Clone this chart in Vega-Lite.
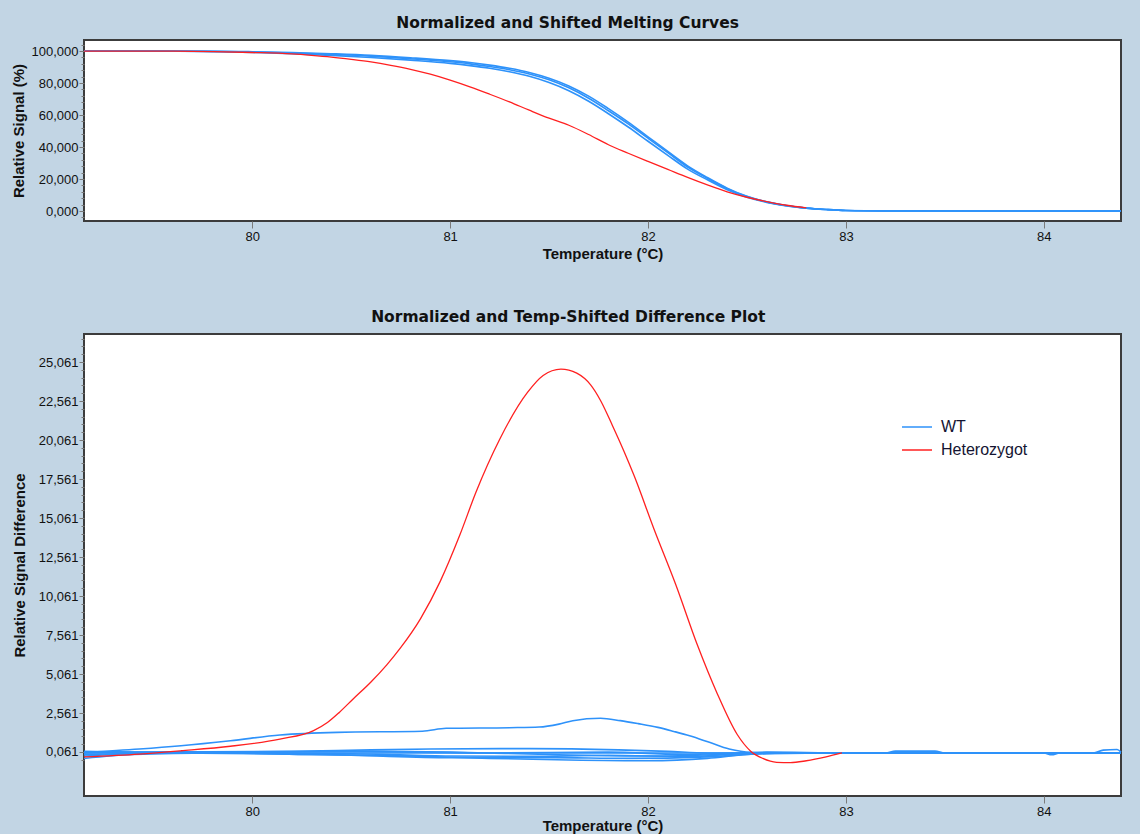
{
  "$schema": "https://vega.github.io/schema/vega-lite/v6.json",
  "background": "#C2D5E4",
  "padding": {"left": 10, "top": 14, "right": 18, "bottom": 0},
  "config": {
    "view": {"fill": "white", "stroke": "#3c3c3c", "strokeWidth": 2},
    "axis": {"labelFont": "Liberation Sans", "labelFontSize": 13, "labelColor": "#111111", "titleFont": "Liberation Sans", "titleFontSize": 15, "titleFontWeight": "bold", "titleColor": "#111111", "domain": false, "grid": false, "tickColor": "#7a7a7a", "tickSize": 5, "labelPadding": 1},
    "title": {"font": "DejaVu Sans", "fontSize": 15.5, "fontWeight": "bold", "color": "#111111", "anchor": "middle", "frame": "bounds", "offset": 9},
    "line": {"strokeWidth": 1.5, "interpolate": "monotone"}
  },
  "datasets": {
    "melt": [
      {"s":"WT1","g":"WT","t":79.15,"v":100},{"s":"WT1","g":"WT","t":79.5,"v":100},{"s":"WT1","g":"WT","t":79.8,"v":99.8},{"s":"WT1","g":"WT","t":80.0,"v":99.4},{"s":"WT1","g":"WT","t":80.2,"v":98.8},{"s":"WT1","g":"WT","t":80.4,"v":97.9},{"s":"WT1","g":"WT","t":80.6,"v":96.8},{"s":"WT1","g":"WT","t":80.8,"v":95.2},{"s":"WT1","g":"WT","t":81.0,"v":93.3},{"s":"WT1","g":"WT","t":81.1,"v":92},{"s":"WT1","g":"WT","t":81.2,"v":90.3},{"s":"WT1","g":"WT","t":81.3,"v":88.3},{"s":"WT1","g":"WT","t":81.4,"v":85.7},{"s":"WT1","g":"WT","t":81.5,"v":82},{"s":"WT1","g":"WT","t":81.6,"v":77},{"s":"WT1","g":"WT","t":81.7,"v":70.5},{"s":"WT1","g":"WT","t":81.8,"v":62.7},{"s":"WT1","g":"WT","t":81.9,"v":54.5},{"s":"WT1","g":"WT","t":82.0,"v":45.5},{"s":"WT1","g":"WT","t":82.1,"v":36.5},{"s":"WT1","g":"WT","t":82.2,"v":27.5},{"s":"WT1","g":"WT","t":82.3,"v":20.5},{"s":"WT1","g":"WT","t":82.4,"v":14},{"s":"WT1","g":"WT","t":82.5,"v":9},{"s":"WT1","g":"WT","t":82.6,"v":5.6},{"s":"WT1","g":"WT","t":82.7,"v":3.3},{"s":"WT1","g":"WT","t":82.8,"v":1.8},{"s":"WT1","g":"WT","t":82.9,"v":0.9},{"s":"WT1","g":"WT","t":83.0,"v":0.3},{"s":"WT1","g":"WT","t":83.2,"v":0.05},{"s":"WT1","g":"WT","t":83.6,"v":0},{"s":"WT1","g":"WT","t":84.0,"v":0},{"s":"WT1","g":"WT","t":84.39,"v":0},
      {"s":"WT2","g":"WT","t":79.15,"v":100},{"s":"WT2","g":"WT","t":79.5,"v":100},{"s":"WT2","g":"WT","t":79.8,"v":99.6},{"s":"WT2","g":"WT","t":80.0,"v":99.1},{"s":"WT2","g":"WT","t":80.2,"v":98.3},{"s":"WT2","g":"WT","t":80.4,"v":97.3},{"s":"WT2","g":"WT","t":80.6,"v":96.0},{"s":"WT2","g":"WT","t":80.8,"v":94.3},{"s":"WT2","g":"WT","t":81.0,"v":92.3},{"s":"WT2","g":"WT","t":81.1,"v":90.9},{"s":"WT2","g":"WT","t":81.2,"v":89.2},{"s":"WT2","g":"WT","t":81.3,"v":87.0},{"s":"WT2","g":"WT","t":81.4,"v":84.2},{"s":"WT2","g":"WT","t":81.5,"v":80.3},{"s":"WT2","g":"WT","t":81.6,"v":75.2},{"s":"WT2","g":"WT","t":81.7,"v":68.6},{"s":"WT2","g":"WT","t":81.8,"v":60.8},{"s":"WT2","g":"WT","t":81.9,"v":52.5},{"s":"WT2","g":"WT","t":82.0,"v":43.6},{"s":"WT2","g":"WT","t":82.1,"v":34.8},{"s":"WT2","g":"WT","t":82.2,"v":26.2},{"s":"WT2","g":"WT","t":82.3,"v":19.5},{"s":"WT2","g":"WT","t":82.4,"v":13.3},{"s":"WT2","g":"WT","t":82.5,"v":8.6},{"s":"WT2","g":"WT","t":82.6,"v":5.4},{"s":"WT2","g":"WT","t":82.7,"v":3.2},{"s":"WT2","g":"WT","t":82.8,"v":1.8},{"s":"WT2","g":"WT","t":82.9,"v":0.9},{"s":"WT2","g":"WT","t":83.0,"v":0.3},{"s":"WT2","g":"WT","t":83.2,"v":0.05},{"s":"WT2","g":"WT","t":83.6,"v":0},{"s":"WT2","g":"WT","t":84.39,"v":0},
      {"s":"WT3","g":"WT","t":79.15,"v":100},{"s":"WT3","g":"WT","t":79.8,"v":99.9},{"s":"WT3","g":"WT","t":80.0,"v":99.6},{"s":"WT3","g":"WT","t":80.2,"v":99.1},{"s":"WT3","g":"WT","t":80.4,"v":98.3},{"s":"WT3","g":"WT","t":80.6,"v":97.3},{"s":"WT3","g":"WT","t":80.8,"v":95.8},{"s":"WT3","g":"WT","t":81.0,"v":94.0},{"s":"WT3","g":"WT","t":81.1,"v":92.8},{"s":"WT3","g":"WT","t":81.2,"v":91.2},{"s":"WT3","g":"WT","t":81.3,"v":89.2},{"s":"WT3","g":"WT","t":81.4,"v":86.6},{"s":"WT3","g":"WT","t":81.5,"v":83.0},{"s":"WT3","g":"WT","t":81.6,"v":78.2},{"s":"WT3","g":"WT","t":81.7,"v":71.8},{"s":"WT3","g":"WT","t":81.8,"v":64.0},{"s":"WT3","g":"WT","t":81.9,"v":55.6},{"s":"WT3","g":"WT","t":82.0,"v":46.4},{"s":"WT3","g":"WT","t":82.1,"v":37.2},{"s":"WT3","g":"WT","t":82.2,"v":28.2},{"s":"WT3","g":"WT","t":82.3,"v":20.9},{"s":"WT3","g":"WT","t":82.4,"v":14.3},{"s":"WT3","g":"WT","t":82.5,"v":9.2},{"s":"WT3","g":"WT","t":82.6,"v":5.7},{"s":"WT3","g":"WT","t":82.7,"v":3.4},{"s":"WT3","g":"WT","t":82.8,"v":1.8},{"s":"WT3","g":"WT","t":82.9,"v":0.9},{"s":"WT3","g":"WT","t":83.0,"v":0.3},{"s":"WT3","g":"WT","t":83.2,"v":0.05},{"s":"WT3","g":"WT","t":84.39,"v":0},
      {"s":"HET","g":"Heterozygot","t":79.15,"v":100},{"s":"HET","g":"Heterozygot","t":79.6,"v":99.9},{"s":"HET","g":"Heterozygot","t":80.0,"v":99.1},{"s":"HET","g":"Heterozygot","t":80.2,"v":98.2},{"s":"HET","g":"Heterozygot","t":80.3,"v":97.3},{"s":"HET","g":"Heterozygot","t":80.4,"v":96.2},{"s":"HET","g":"Heterozygot","t":80.5,"v":94.8},{"s":"HET","g":"Heterozygot","t":80.6,"v":93.2},{"s":"HET","g":"Heterozygot","t":80.7,"v":91.1},{"s":"HET","g":"Heterozygot","t":80.8,"v":88.6},{"s":"HET","g":"Heterozygot","t":80.9,"v":85.5},{"s":"HET","g":"Heterozygot","t":81.0,"v":81.8},{"s":"HET","g":"Heterozygot","t":81.1,"v":77.6},{"s":"HET","g":"Heterozygot","t":81.2,"v":73},{"s":"HET","g":"Heterozygot","t":81.3,"v":68.2},{"s":"HET","g":"Heterozygot","t":81.4,"v":63},{"s":"HET","g":"Heterozygot","t":81.5,"v":58},{"s":"HET","g":"Heterozygot","t":81.6,"v":53.6},{"s":"HET","g":"Heterozygot","t":81.7,"v":47.8},{"s":"HET","g":"Heterozygot","t":81.8,"v":41.4},{"s":"HET","g":"Heterozygot","t":81.9,"v":36.1},{"s":"HET","g":"Heterozygot","t":82.0,"v":31},{"s":"HET","g":"Heterozygot","t":82.1,"v":26},{"s":"HET","g":"Heterozygot","t":82.2,"v":21},{"s":"HET","g":"Heterozygot","t":82.3,"v":16.3},{"s":"HET","g":"Heterozygot","t":82.4,"v":12},{"s":"HET","g":"Heterozygot","t":82.5,"v":8.6},{"s":"HET","g":"Heterozygot","t":82.6,"v":5.9},{"s":"HET","g":"Heterozygot","t":82.7,"v":3.6},{"s":"HET","g":"Heterozygot","t":82.8,"v":2.0}
    ],
    "diff": [
      {"s":"B","g":"WT","t":79.15,"v":0.03},{"s":"B","g":"WT","t":79.43,"v":0.25},{"s":"B","g":"WT","t":79.64,"v":0.46},{"s":"B","g":"WT","t":79.89,"v":0.78},{"s":"B","g":"WT","t":80.14,"v":1.15},{"s":"B","g":"WT","t":80.43,"v":1.32},{"s":"B","g":"WT","t":80.86,"v":1.39},{"s":"B","g":"WT","t":80.98,"v":1.58},{"s":"B","g":"WT","t":81.3,"v":1.62},{"s":"B","g":"WT","t":81.45,"v":1.66},{"s":"B","g":"WT","t":81.55,"v":1.85},{"s":"B","g":"WT","t":81.62,"v":2.07},{"s":"B","g":"WT","t":81.76,"v":2.22},{"s":"B","g":"WT","t":81.86,"v":2.07},{"s":"B","g":"WT","t":81.95,"v":1.88},{"s":"B","g":"WT","t":82.05,"v":1.64},{"s":"B","g":"WT","t":82.13,"v":1.38},{"s":"B","g":"WT","t":82.21,"v":1.1},{"s":"B","g":"WT","t":82.31,"v":0.68},{"s":"B","g":"WT","t":82.41,"v":0.25},{"s":"B","g":"WT","t":82.52,"v":0.04},{"s":"B","g":"WT","t":82.8,"v":0.0},{"s":"B","g":"WT","t":84.39,"v":0.0},
      {"s":"R","g":"WT","t":79.15,"v":0.0},{"s":"R","g":"WT","t":83.2,"v":0.0},{"s":"R","g":"WT","t":83.25,"v":0.12},{"s":"R","g":"WT","t":83.45,"v":0.12},{"s":"R","g":"WT","t":83.5,"v":0.0},{"s":"R","g":"WT","t":84.0,"v":0.0},{"s":"R","g":"WT","t":84.04,"v":-0.12},{"s":"R","g":"WT","t":84.08,"v":0.0},{"s":"R","g":"WT","t":84.25,"v":0.0},{"s":"R","g":"WT","t":84.3,"v":0.18},{"s":"R","g":"WT","t":84.37,"v":0.22},{"s":"R","g":"WT","t":84.39,"v":0.05},
      {"s":"A","g":"WT","t":79.15,"v":0.1},{"s":"A","g":"WT","t":79.5,"v":0.05},{"s":"A","g":"WT","t":80.2,"v":0.1},{"s":"A","g":"WT","t":80.6,"v":0.2},{"s":"A","g":"WT","t":80.9,"v":0.25},{"s":"A","g":"WT","t":81.4,"v":0.28},{"s":"A","g":"WT","t":81.85,"v":0.2},{"s":"A","g":"WT","t":82.1,"v":0.1},{"s":"A","g":"WT","t":82.3,"v":0.0},{"s":"A","g":"WT","t":84.39,"v":0.0},
      {"s":"C","g":"WT","t":79.15,"v":-0.35},{"s":"C","g":"WT","t":79.4,"v":-0.1},{"s":"C","g":"WT","t":79.8,"v":0.0},{"s":"C","g":"WT","t":80.3,"v":-0.1},{"s":"C","g":"WT","t":80.8,"v":-0.2},{"s":"C","g":"WT","t":81.2,"v":-0.35},{"s":"C","g":"WT","t":81.6,"v":-0.45},{"s":"C","g":"WT","t":82.0,"v":-0.5},{"s":"C","g":"WT","t":82.3,"v":-0.35},{"s":"C","g":"WT","t":82.5,"v":-0.1},{"s":"C","g":"WT","t":82.7,"v":0.0},{"s":"C","g":"WT","t":84.39,"v":0.0},
      {"s":"D","g":"WT","t":79.15,"v":-0.2},{"s":"D","g":"WT","t":79.5,"v":0.0},{"s":"D","g":"WT","t":80.5,"v":-0.15},{"s":"D","g":"WT","t":81.0,"v":-0.3},{"s":"D","g":"WT","t":81.5,"v":-0.3},{"s":"D","g":"WT","t":81.9,"v":-0.35},{"s":"D","g":"WT","t":82.3,"v":-0.25},{"s":"D","g":"WT","t":82.6,"v":-0.05},{"s":"D","g":"WT","t":83.0,"v":0.0},{"s":"D","g":"WT","t":84.39,"v":0.0},
      {"s":"E","g":"WT","t":79.15,"v":0.05},{"s":"E","g":"WT","t":80.0,"v":0.05},{"s":"E","g":"WT","t":80.6,"v":0.1},{"s":"E","g":"WT","t":81.0,"v":0.05},{"s":"E","g":"WT","t":81.5,"v":-0.1},{"s":"E","g":"WT","t":82.0,"v":-0.2},{"s":"E","g":"WT","t":82.45,"v":-0.05},{"s":"E","g":"WT","t":82.6,"v":0.05},{"s":"E","g":"WT","t":83.0,"v":0.0},{"s":"E","g":"WT","t":84.39,"v":0.0},
      {"s":"F","g":"WT","t":79.15,"v":-0.1},{"s":"F","g":"WT","t":79.6,"v":0.0},{"s":"F","g":"WT","t":80.5,"v":-0.05},{"s":"F","g":"WT","t":81.0,"v":-0.2},{"s":"F","g":"WT","t":81.4,"v":-0.22},{"s":"F","g":"WT","t":81.8,"v":-0.15},{"s":"F","g":"WT","t":82.2,"v":-0.25},{"s":"F","g":"WT","t":82.4,"v":-0.1},{"s":"F","g":"WT","t":82.6,"v":0.0},{"s":"F","g":"WT","t":84.39,"v":0.0},
      {"s":"G","g":"WT","t":79.15,"v":0.0},{"s":"G","g":"WT","t":80.5,"v":0.1},{"s":"G","g":"WT","t":81.2,"v":0.0},{"s":"G","g":"WT","t":81.8,"v":0.05},{"s":"G","g":"WT","t":82.2,"v":-0.1},{"s":"G","g":"WT","t":82.5,"v":0.0},{"s":"G","g":"WT","t":84.39,"v":0.0},
      {"s":"H","g":"Heterozygot","t":79.15,"v":-0.25},{"s":"H","g":"Heterozygot","t":79.43,"v":-0.07},{"s":"H","g":"Heterozygot","t":79.64,"v":0.14},{"s":"H","g":"Heterozygot","t":79.89,"v":0.43},{"s":"H","g":"Heterozygot","t":80.14,"v":0.89},{"s":"H","g":"Heterozygot","t":80.31,"v":1.43},{"s":"H","g":"Heterozygot","t":80.38,"v":1.95},{"s":"H","g":"Heterozygot","t":80.44,"v":2.6},{"s":"H","g":"Heterozygot","t":80.51,"v":3.46},{"s":"H","g":"Heterozygot","t":80.6,"v":4.55},{"s":"H","g":"Heterozygot","t":80.68,"v":5.65},{"s":"H","g":"Heterozygot","t":80.75,"v":6.75},{"s":"H","g":"Heterozygot","t":80.85,"v":8.6},{"s":"H","g":"Heterozygot","t":80.95,"v":11.0},{"s":"H","g":"Heterozygot","t":81.05,"v":14.0},{"s":"H","g":"Heterozygot","t":81.13,"v":16.7},{"s":"H","g":"Heterozygot","t":81.25,"v":20.1},{"s":"H","g":"Heterozygot","t":81.39,"v":23.1},{"s":"H","g":"Heterozygot","t":81.47,"v":24.2},{"s":"H","g":"Heterozygot","t":81.56,"v":24.61},{"s":"H","g":"Heterozygot","t":81.64,"v":24.35},{"s":"H","g":"Heterozygot","t":81.68,"v":24.0},{"s":"H","g":"Heterozygot","t":81.71,"v":23.6},{"s":"H","g":"Heterozygot","t":81.76,"v":22.6},{"s":"H","g":"Heterozygot","t":81.82,"v":21.0},{"s":"H","g":"Heterozygot","t":81.88,"v":19.3},{"s":"H","g":"Heterozygot","t":81.93,"v":17.77},{"s":"H","g":"Heterozygot","t":82.03,"v":14.36},{"s":"H","g":"Heterozygot","t":82.14,"v":10.8},{"s":"H","g":"Heterozygot","t":82.25,"v":6.9},{"s":"H","g":"Heterozygot","t":82.35,"v":3.8},{"s":"H","g":"Heterozygot","t":82.45,"v":1.2},{"s":"H","g":"Heterozygot","t":82.52,"v":0.1},{"s":"H","g":"Heterozygot","t":82.58,"v":-0.35},{"s":"H","g":"Heterozygot","t":82.65,"v":-0.6},{"s":"H","g":"Heterozygot","t":82.72,"v":-0.62},{"s":"H","g":"Heterozygot","t":82.8,"v":-0.5},{"s":"H","g":"Heterozygot","t":82.9,"v":-0.25},{"s":"H","g":"Heterozygot","t":82.98,"v":0.0}
    ]
  },
  "spacing": 46,
  "resolve": {"scale": {"color": "independent"}},
  "vconcat": [
    {
      "title": "Normalized and Shifted Melting Curves",
      "width": 1037,
      "height": 181,
      "data": {"name": "melt"},
      "encoding": {
        "x": {"field": "t", "type": "quantitative", "scale": {"domain": [79.15, 84.39], "nice": false, "zero": false}, "axis": {"title": "Temperature (°C)", "values": [80, 81, 82, 83, 84], "format": "d", "tickSize": 7, "labelPadding": 2, "titlePadding": 3}},
        "y": {"field": "v", "type": "quantitative", "scale": {"domain": [-6.25, 106.9], "nice": false, "zero": false}, "axis": {"title": "Relative Signal (%)", "titlePadding": 5, "values": [-4,0,4,8,12,16,20,24,28,32,36,40,44,48,52,56,60,64,68,72,76,80,84,88,92,96,100,104], "labelExpr": "datum.value % 20 === 0 ? replace(format(datum.value, '.3f'), '.', ',') : ''", "tickSize": {"condition": {"test": "datum.value % 20 === 0", "value": 5}, "value": 3}}},
        "color": {"field": "g", "type": "nominal", "scale": {"domain": ["WT", "Heterozygot"], "range": ["#2E92FA", "#FF2020"]}, "legend": null},
        "detail": {"field": "s"}
      },
      "layer": [
        {"mark": {"type": "line", "strokeWidth": 1.6}, "transform": [{"filter": "datum.g === 'WT'"}]},
        {"mark": {"type": "line", "strokeWidth": 1.3}, "transform": [{"filter": "datum.g === 'Heterozygot'"}]}
      ]
    },
    {
      "title": "Normalized and Temp-Shifted Difference Plot",
      "width": 1037,
      "height": 462,
      "data": {"name": "diff"},
      "encoding": {
        "x": {"field": "t", "type": "quantitative", "scale": {"domain": [79.15, 84.39], "nice": false, "zero": false}, "axis": {"title": "Temperature (°C)", "values": [80, 81, 82, 83, 84], "format": "d", "tickSize": 7, "labelPadding": 2, "titlePadding": 0}},
        "y": {"field": "v", "type": "quantitative", "scale": {"domain": [-2.76, 26.86], "nice": false, "zero": false}, "axis": {"title": "Relative Signal Difference", "titlePadding": 11, "values": [-0.439,0.061,0.561,1.061,1.561,2.061,2.561,3.061,3.561,4.061,4.561,5.061,5.561,6.061,6.561,7.061,7.561,8.061,8.561,9.061,9.561,10.061,10.561,11.061,11.561,12.061,12.561,13.061,13.561,14.061,14.561,15.061,15.561,16.061,16.561,17.061,17.561,18.061,18.561,19.061,19.561,20.061,20.561,21.061,21.561,22.061,22.561,23.061,23.561,24.061,24.561,25.061,25.561,26.061,26.561], "labelExpr": "abs((datum.value - 0.061) / 2.5 - round((datum.value - 0.061) / 2.5)) < 0.01 ? replace(format(datum.value, '.3f'), '.', ',') : ''", "tickSize": {"condition": {"test": "abs((datum.value - 0.061) / 2.5 - round((datum.value - 0.061) / 2.5)) < 0.01", "value": 5}, "value": 3}}},
        "color": {"field": "g", "type": "nominal", "scale": {"domain": ["WT", "Heterozygot"], "range": ["#2E92FA", "#FF2020"]}, "legend": {"title": null, "orient": "none", "legendX": 822, "legendY": 82, "symbolType": "M-1.5,0H1.5", "symbolSize": 400, "symbolStrokeWidth": 2, "labelFont": "Liberation Sans", "labelFontSize": 16, "labelColor": "#141432", "labelOffset": 13, "rowPadding": 4}},
        "detail": {"field": "s"}
      },
      "layer": [
        {"mark": {"type": "line", "strokeWidth": 1.6}, "transform": [{"filter": "datum.g === 'WT'"}]},
        {"mark": {"type": "line", "strokeWidth": 1.3}, "transform": [{"filter": "datum.g === 'Heterozygot'"}]}
      ]
    }
  ]
}
